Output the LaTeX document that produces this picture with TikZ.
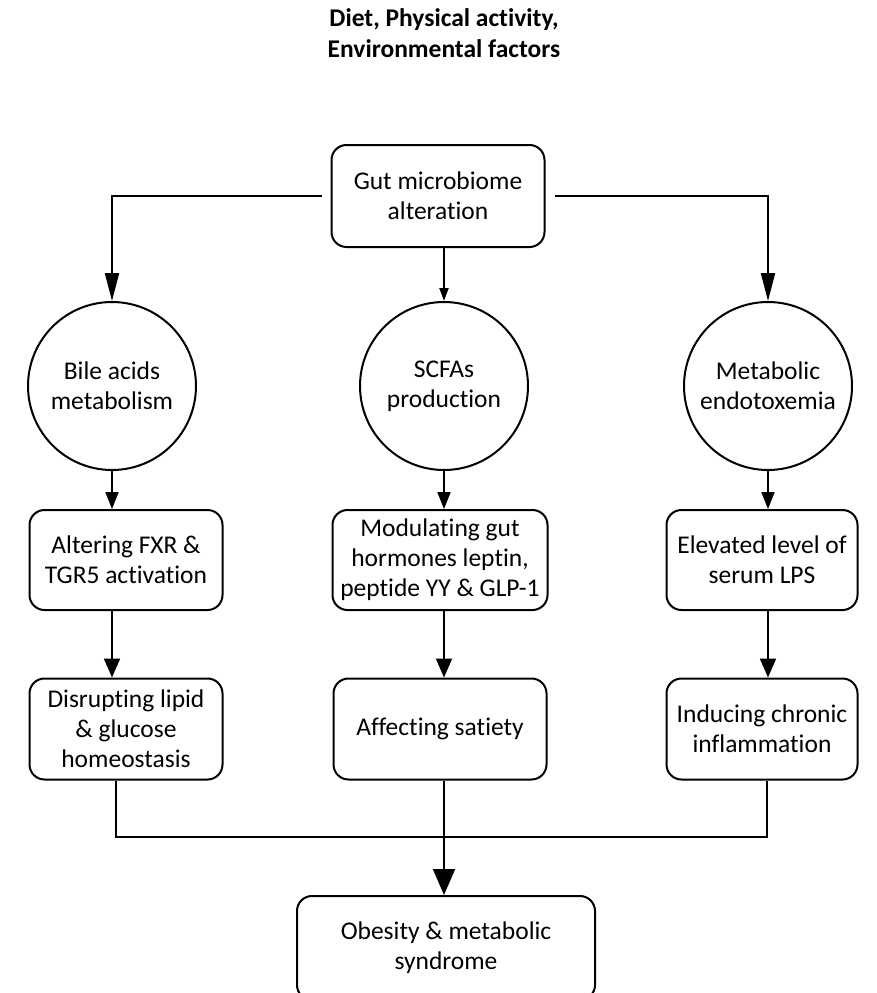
\documentclass[tikz,border=0pt]{standalone}
\usepackage{fontspec}
\setmainfont{Carlito}[Ligatures=NoCommon]
\usetikzlibrary{arrows.meta}

\begin{document}
\begin{tikzpicture}[x=1pt,y=-1pt,line width=2pt,>={Triangle[length=17pt,width=13pt]},
        font=\fontsize{25.5}{30}\selectfont,
        box/.style={draw, rectangle, rounded corners=15pt, align=center, inner sep=0pt},
        bubble/.style={draw, circle, minimum size=168pt, align=center, inner sep=0pt}]
        \useasboundingbox (0,0) rectangle (877,993);
        \clip (0,0) rectangle (877,993);

        \node (title) [align=center, font=\fontsize{25.5}{31}\selectfont\bfseries] at (444,33) {Diet, Physical activity,\\Environmental factors};

        \node (gut) [box, minimum width=213pt, minimum height=102pt] at (438,196) {Gut microbiome\\alteration};

        \node (bile) [bubble] at (112,386) {Bile acids\\metabolism};
        \node (scfa) [bubble] at (444,386) {SCFAs\\production};
        \node (endo) [bubble] at (768,386) {Metabolic\\endotoxemia};

        \node (fxr) [box, minimum width=193pt, minimum height=100pt] at (126,560) {Altering FXR \&\\TGR5 activation};
        \node (horm) [box, minimum width=215pt, minimum height=100pt] at (440,560) {Modulating gut\\hormones leptin,\\peptide YY \& GLP-1};
        \node (lps) [box, minimum width=191pt, minimum height=100pt] at (762,560) {Elevated level of\\serum LPS};

        \node (dis) [box, minimum width=193pt, minimum height=101pt] at (126,729) {Disrupting lipid\\\& glucose\\homeostasis};
        \node (sat) [box, minimum width=213pt, minimum height=101pt] at (440,729) {Affecting satiety};
        \node (infl) [box, minimum width=191pt, minimum height=101pt] at (762,729) {Inducing chronic\\inflammation};

        \node (obe) [box, minimum width=298pt, minimum height=104pt] at (446,948) {Obesity \& metabolic\\syndrome};

        % from the microbiome box
        \draw[-{Triangle[length=28pt,width=14pt]}, shorten <=9pt] (gut.west) -| (bile.north);
        \draw[-{Triangle[length=13pt,width=9pt]}] (gut.south -| scfa.north) -- (scfa.north);
        \draw[-{Triangle[length=28pt,width=14pt]}, shorten <=9pt] (gut.east) -| (endo.north);

        \draw[->] (bile.south) -- (fxr.north -| bile.south);
        \draw[->] (scfa.south) -- (horm.north -| scfa.south);
        \draw[->] (endo.south) -- (lps.north -| endo.south);

        \draw[-{Triangle[length=19pt,width=16pt]}] (fxr.south -| bile) -- (dis.north -| bile);
        \draw[-{Triangle[length=19pt,width=16pt]}] (horm.south -| scfa) -- (sat.north -| scfa);
        \draw[-{Triangle[length=19pt,width=16pt]}] (lps.south -| endo) -- (infl.north -| endo);

        % joining into the last box
        \coordinate (jl) at (116,837);
        \coordinate (jr) at (767,837);
        \draw (dis.south -| jl) -- (jl) -- (jr) -- (infl.south -| jr);
        \draw[-{Triangle[length=26pt,width=22pt]}] (sat.south -| scfa) -- (obe.north -| scfa);
\end{tikzpicture}
\end{document}
